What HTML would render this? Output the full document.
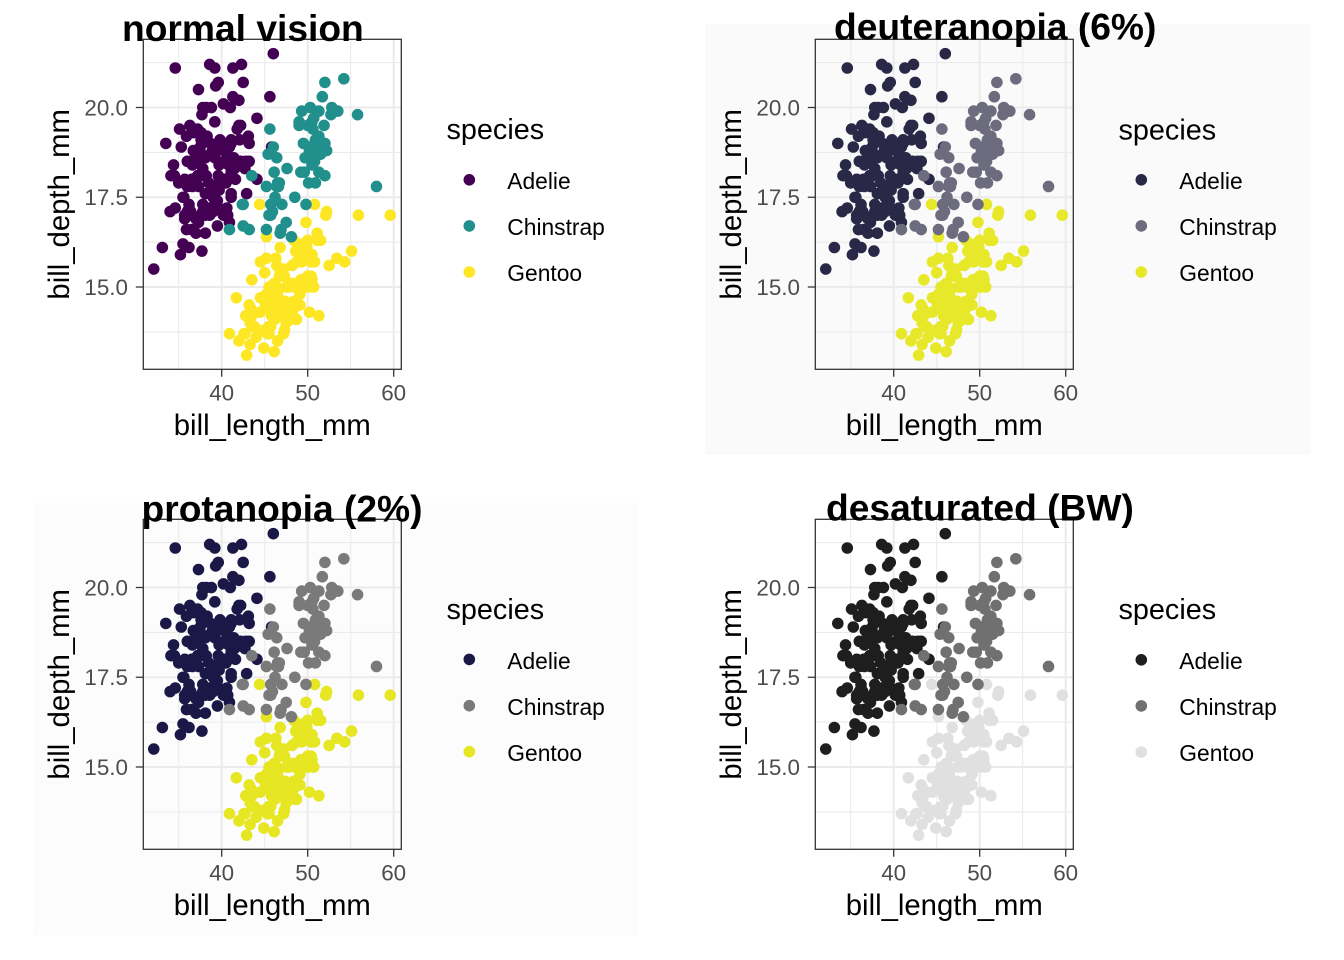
<!DOCTYPE html>
<html>
<head>
<meta charset="utf-8">
<style>
html,body{margin:0;padding:0;background:#fff;}
svg{display:block;}
text{font-family:"Liberation Sans",Arial,sans-serif;}
.tk{font-size:22.4px;fill:#4D4D4D;}
.at{font-size:29.3px;fill:#000;}
.tt{font-size:37.2px;font-weight:bold;fill:#000;}
.lt{font-size:28.8px;fill:#000;}
.ll{font-size:22.8px;fill:#000;}
</style>
</head>
<body>
<svg xmlns="http://www.w3.org/2000/svg" xmlns:xlink="http://www.w3.org/1999/xlink" width="1344" height="960" viewBox="0 0 1344 960">
<defs>
<g id="grid" fill="none" stroke="#EBEBEB">
  <g stroke-width="1.1">
    <path d="M143.3 62.6H401.3M143.3 152.4H401.3M143.3 242.1H401.3M143.3 331.9H401.3"/>
    <path d="M178.7 39.3V369.3M264.7 39.3V369.3M350.7 39.3V369.3"/>
  </g>
  <g stroke-width="2.1">
    <path d="M143.3 107.5H401.3M143.3 197.25H401.3M143.3 287H401.3"/>
    <path d="M221.7 39.3V369.3M307.7 39.3V369.3M393.7 39.3V369.3"/>
  </g>
</g>
<g id="frame" fill="none" stroke="#333333" stroke-width="1.3">
  <rect x="143.3" y="39.3" width="258" height="330"/>
  <path d="M135.8 107.5H143.3M135.8 197.25H143.3M135.8 287H143.3M221.7 369.3V376.8M307.7 369.3V376.8M393.7 369.3V376.8"/>
</g>
<path id="dA" vector-effect="non-scaling-stroke" d="M39.1 18.7h0M39.5 17.4h0M40.3 18h0M36.7 19.3h0M39.3 20.6h0M38.9 17.8h0M39.2 19.6h0M34.1 18.1h0M42 20.2h0M37.8 17.1h0M37.8 17.3h0M41.1 17.6h0M38.6 21.2h0M34.6 21.1h0M36.6 17.8h0M38.7 19h0M42.5 20.7h0M34.4 18.4h0M46 21.5h0M37.8 18.3h0M37.7 18.7h0M35.9 19.2h0M38.2 18.1h0M38.8 17.2h0M35.3 18.9h0M40.6 18.6h0M40.5 17.9h0M37.9 18.6h0M40.5 18.9h0M39.5 16.7h0M37.2 18.1h0M39.5 17.8h0M40.9 18.9h0M36.4 17h0M39.2 21.1h0M38.8 20h0M42.2 18.5h0M37.6 19.3h0M39.8 19.1h0M36.5 18h0M40.8 18.4h0M36 18.5h0M44.1 19.7h0M37 16.9h0M39.6 18.8h0M41.1 19h0M37.5 18.9h0M36 17.9h0M42.3 21.2h0M39.6 17.7h0M40.1 18.9h0M35 17.9h0M42 19.5h0M34.5 18.1h0M41.4 18.6h0M39 17.5h0M40.6 18.8h0M36.5 16.6h0M37.6 19.1h0M35.7 16.9h0M41.3 21.1h0M37.6 17h0M41.1 18.2h0M36.4 17.1h0M41.6 18h0M35.5 16.2h0M41.1 19.1h0M35.9 16.6h0M41.8 19.4h0M33.5 19h0M39.7 18.4h0M39.6 17.2h0M45.8 18.9h0M35.5 17.5h0M42.8 18.5h0M40.9 16.8h0M37.2 19.4h0M36.2 16.1h0M42.1 19.1h0M34.6 17.2h0M42.9 17.6h0M36.7 18.8h0M35.1 19.4h0M37.3 17.8h0M41.3 20.3h0M36.3 19.5h0M36.9 18.6h0M38.3 19.2h0M38.9 18.8h0M35.7 18h0M41.1 18.1h0M34 17.1h0M39.6 18.1h0M36.2 17.3h0M40.8 18.9h0M38.1 18.6h0M40.3 18.5h0M33.1 16.1h0M43.2 18.5h0M35 17.9h0M41 20h0M37.7 16h0M37.8 20h0M37.9 18.6h0M39.7 18.9h0M38.6 17.2h0M38.2 20h0M38.1 17h0M43.2 19h0M38.1 16.5h0M45.6 20.3h0M39.7 17.7h0M42.2 19.5h0M39.6 20.7h0M42.7 18.3h0M38.6 17h0M37.3 20.5h0M35.7 17h0M41.1 18.6h0M36.2 17.2h0M37.7 19.8h0M40.2 17h0M41.4 18.5h0M35.2 15.9h0M40.6 19h0M38.8 17.6h0M41.5 18.3h0M39 17.1h0M44.1 18h0M38.5 17.9h0M43.1 19.2h0M36.8 18.5h0M37.5 18.5h0M38.1 17.6h0M41.1 17.5h0M35.6 17.5h0M40.2 20.1h0M37 16.5h0M39.7 17.9h0M40.2 17.1h0M40.6 17.2h0M32.1 15.5h0M40.7 17h0M37.3 16.8h0M39 18.7h0M39.2 18.6h0M36.6 18.4h0M36 17.8h0M37.8 18.1h0M36 17.1h0M41.5 18.5h0"/>
<path id="dG" vector-effect="non-scaling-stroke" d="M46.1 13.2h0M50 16.3h0M48.7 14.1h0M50 15.2h0M47.6 14.5h0M46.5 13.5h0M45.4 14.6h0M46.7 15.3h0M43.3 13.4h0M46.8 15.4h0M40.9 13.7h0M49 16.1h0M45.5 13.7h0M48.4 14.6h0M45.8 14.6h0M49.3 15.7h0M42 13.5h0M49.2 15.2h0M46.2 14.5h0M48.7 15.1h0M50.2 14.3h0M45.1 14.5h0M46.5 14.5h0M46.3 15.8h0M42.9 13.1h0M46.1 15.1h0M44.5 14.3h0M47.8 15h0M48.2 14.3h0M50 15.3h0M47.3 15.3h0M42.8 14.2h0M45.1 14.5h0M59.6 17h0M49.1 14.8h0M48.4 16.3h0M42.6 13.7h0M44.4 17.3h0M44 13.6h0M48.7 15.7h0M42.7 13.7h0M49.6 16h0M45.3 13.7h0M49.6 15h0M50.5 15.9h0M43.6 13.9h0M45.5 13.9h0M50.5 15.9h0M44.9 13.3h0M45.2 15.8h0M46.6 14.2h0M48.5 14.1h0M45.1 14.4h0M50.1 15h0M46.5 14.4h0M45 15.4h0M43.8 13.9h0M45.5 15h0M43.2 14.5h0M50.4 15.3h0M45.3 13.8h0M46.2 14.9h0M45.7 13.9h0M54.3 15.7h0M45.8 14.2h0M49.8 16.8h0M46.2 14.4h0M49.5 16.2h0M43.5 14.2h0M50.7 15h0M47.7 15h0M46.4 15.6h0M48.2 15.6h0M46.5 14.8h0M46.4 15h0M48.6 16h0M47.5 14.2h0M51.1 16.3h0M45.2 13.8h0M45.2 16.4h0M49.1 14.5h0M52.5 15.6h0M47.4 14.6h0M50 15.9h0M44.9 13.8h0M50.8 17.3h0M43.4 14.4h0M51.3 14.2h0M47.5 14h0M52.1 17h0M47.5 15h0M52.2 17.1h0M45.5 14.5h0M49.5 16.1h0M44.5 14.7h0M50.8 15.7h0M49.4 15.8h0M46.9 14.6h0M48.4 14.4h0M51.1 16.5h0M48.5 15h0M55.9 17h0M47.2 15.5h0M49.1 15h0M47.3 13.8h0M46.8 16.1h0M41.7 14.7h0M53.4 15.8h0M43.3 14h0M48.1 15.1h0M50.5 15.2h0M49.8 15.9h0M43.5 15.2h0M51.5 16.3h0M46.2 14.1h0M55.1 16h0M44.5 15.7h0M48.8 16.2h0M47.2 13.7h0M46.8 14.3h0M50.4 15.7h0M45.2 14.8h0M49.9 16.1h0"/>
<path id="dC" vector-effect="non-scaling-stroke" d="M46.5 17.9h0M50 19.5h0M51.3 19.2h0M45.4 18.7h0M52.7 19.8h0M45.2 17.8h0M46.1 18.2h0M51.3 18.2h0M46 18.9h0M51.3 19.9h0M46.6 17.8h0M51.7 20.3h0M47 17.3h0M52 18.1h0M45.9 17.1h0M50.5 19.6h0M50.3 20h0M58 17.8h0M46.4 18.6h0M49.2 18.2h0M42.4 17.3h0M48.5 17.5h0M43.2 16.6h0M50.6 19.4h0M46.7 17.9h0M52 19h0M50.5 18.4h0M49.5 19h0M46.4 17.8h0M52.8 20h0M40.9 16.6h0M54.2 20.8h0M42.5 16.7h0M51 18.8h0M49.7 18.6h0M47.5 16.8h0M47.6 18.3h0M52 20.7h0M46.9 16.6h0M53.5 19.9h0M49 19.5h0M46.2 17.5h0M50.9 19.1h0M45.5 17h0M50.9 17.9h0M50.8 18.5h0M50.1 17.9h0M49 19.6h0M51.5 18.7h0M49.8 17.3h0M48.1 16.4h0M51.4 19h0M45.7 17.3h0M50.7 19.7h0M42.5 17.3h0M52.2 18.8h0M45.2 16.6h0M49.3 19.9h0M50.2 18.8h0M45.6 19.4h0M51.9 19.5h0M46.8 16.5h0M45.7 17h0M55.8 19.8h0M43.5 18.1h0M49.6 18.2h0M50.8 19h0M50.2 18.7h0"/>
</defs>

<rect x="0" y="0" width="1344" height="960" fill="#ffffff"/>

<!-- ============ Panel 1: normal vision ============ -->
<g transform="translate(0,0)">
  <use xlink:href="#grid" href="#grid"/>
  <g transform="matrix(8.6 0 0 -35.9 -122.3 825.5)" fill="none" stroke-linecap="round" stroke-width="11.6">
    <use xlink:href="#dA" href="#dA" stroke="#440154"/>
    <use xlink:href="#dG" href="#dG" stroke="#FDE725"/>
    <use xlink:href="#dC" href="#dC" stroke="#21908C"/>
  </g>
  <use xlink:href="#frame" href="#frame"/>
  <text class="tk" x="128" y="115.5" text-anchor="end">20.0</text>
  <text class="tk" x="128" y="205.2" text-anchor="end">17.5</text>
  <text class="tk" x="128" y="295" text-anchor="end">15.0</text>
  <text class="tk" x="221.7" y="400.5" text-anchor="middle">40</text>
  <text class="tk" x="307.7" y="400.5" text-anchor="middle">50</text>
  <text class="tk" x="393.7" y="400.5" text-anchor="middle">60</text>
  <text class="at" x="272.3" y="435" text-anchor="middle">bill_length_mm</text>
  <text class="at" transform="translate(69,204.3) rotate(-90)" text-anchor="middle">bill_depth_mm</text>
  <text class="tt" x="122" y="41">normal vision</text>
  <text class="lt" x="446.5" y="139">species</text>
  <circle cx="469.3" cy="179.8" r="5.8" fill="#440154"/>
  <circle cx="469.3" cy="225.9" r="5.8" fill="#21908C"/>
  <circle cx="469.3" cy="272" r="5.8" fill="#FDE725"/>
  <text class="ll" x="507.3" y="189">Adelie</text>
  <text class="ll" x="507.3" y="235">Chinstrap</text>
  <text class="ll" x="507.3" y="281">Gentoo</text>
</g>

<!-- ============ Panel 2: deuteranopia ============ -->
<g transform="translate(672,0)">
  <rect x="33" y="24" width="605.7" height="431" fill="#FAFAFA"/>
  <use xlink:href="#grid" href="#grid"/>
  <g transform="matrix(8.6 0 0 -35.9 -122.3 825.5)" fill="none" stroke-linecap="round" stroke-width="11.6">
    <use xlink:href="#dA" href="#dA" stroke="#2A2847"/>
    <use xlink:href="#dG" href="#dG" stroke="#E8E82A"/>
    <use xlink:href="#dC" href="#dC" stroke="#6D6C7E"/>
  </g>
  <use xlink:href="#frame" href="#frame"/>
  <text class="tk" x="128" y="115.5" text-anchor="end">20.0</text>
  <text class="tk" x="128" y="205.2" text-anchor="end">17.5</text>
  <text class="tk" x="128" y="295" text-anchor="end">15.0</text>
  <text class="tk" x="221.7" y="400.5" text-anchor="middle">40</text>
  <text class="tk" x="307.7" y="400.5" text-anchor="middle">50</text>
  <text class="tk" x="393.7" y="400.5" text-anchor="middle">60</text>
  <text class="at" x="272.3" y="435" text-anchor="middle">bill_length_mm</text>
  <text class="at" transform="translate(69,204.3) rotate(-90)" text-anchor="middle">bill_depth_mm</text>
  <text class="tt" x="162" y="39.5">deuteranopia (6%)</text>
  <text class="lt" x="446.5" y="139.5">species</text>
  <circle cx="469.3" cy="179.8" r="5.8" fill="#2A2847"/>
  <circle cx="469.3" cy="225.9" r="5.8" fill="#6D6C7E"/>
  <circle cx="469.3" cy="272" r="5.8" fill="#E8E82A"/>
  <text class="ll" x="507.3" y="189">Adelie</text>
  <text class="ll" x="507.3" y="235">Chinstrap</text>
  <text class="ll" x="507.3" y="281">Gentoo</text>
</g>

<!-- ============ Panel 3: protanopia ============ -->
<g transform="translate(0,480)">
  <rect x="33" y="23.3" width="605" height="431.7" fill="#FCFCFC"/>
  <use xlink:href="#grid" href="#grid"/>
  <g transform="matrix(8.6 0 0 -35.9 -122.3 825.5)" fill="none" stroke-linecap="round" stroke-width="11.6">
    <use xlink:href="#dA" href="#dA" stroke="#1B1848"/>
    <use xlink:href="#dG" href="#dG" stroke="#E6E622"/>
    <use xlink:href="#dC" href="#dC" stroke="#7A7A7A"/>
  </g>
  <use xlink:href="#frame" href="#frame"/>
  <text class="tk" x="128" y="115.5" text-anchor="end">20.0</text>
  <text class="tk" x="128" y="205.2" text-anchor="end">17.5</text>
  <text class="tk" x="128" y="295" text-anchor="end">15.0</text>
  <text class="tk" x="221.7" y="400.5" text-anchor="middle">40</text>
  <text class="tk" x="307.7" y="400.5" text-anchor="middle">50</text>
  <text class="tk" x="393.7" y="400.5" text-anchor="middle">60</text>
  <text class="at" x="272.3" y="435" text-anchor="middle">bill_length_mm</text>
  <text class="at" transform="translate(69,204.3) rotate(-90)" text-anchor="middle">bill_depth_mm</text>
  <text class="tt" x="141.5" y="41.5">protanopia (2%)</text>
  <text class="lt" x="446.5" y="139">species</text>
  <circle cx="469.3" cy="179.4" r="5.8" fill="#1B1848"/>
  <circle cx="469.3" cy="225.7" r="5.8" fill="#7A7A7A"/>
  <circle cx="469.3" cy="271.7" r="5.8" fill="#E6E622"/>
  <text class="ll" x="507.3" y="189">Adelie</text>
  <text class="ll" x="507.3" y="235">Chinstrap</text>
  <text class="ll" x="507.3" y="281">Gentoo</text>
</g>

<!-- ============ Panel 4: desaturated ============ -->
<g transform="translate(672,480)">
  <use xlink:href="#grid" href="#grid"/>
  <g transform="matrix(8.6 0 0 -35.9 -122.3 825.5)" fill="none" stroke-linecap="round" stroke-width="11.6">
    <use xlink:href="#dA" href="#dA" stroke="#1E1E1E"/>
    <use xlink:href="#dG" href="#dG" stroke="#E0E0E0"/>
    <use xlink:href="#dC" href="#dC" stroke="#707070"/>
  </g>
  <use xlink:href="#frame" href="#frame"/>
  <text class="tk" x="128" y="115.5" text-anchor="end">20.0</text>
  <text class="tk" x="128" y="205.2" text-anchor="end">17.5</text>
  <text class="tk" x="128" y="295" text-anchor="end">15.0</text>
  <text class="tk" x="221.7" y="400.5" text-anchor="middle">40</text>
  <text class="tk" x="307.7" y="400.5" text-anchor="middle">50</text>
  <text class="tk" x="393.7" y="400.5" text-anchor="middle">60</text>
  <text class="at" x="272.3" y="435" text-anchor="middle">bill_length_mm</text>
  <text class="at" transform="translate(69,204.3) rotate(-90)" text-anchor="middle">bill_depth_mm</text>
  <text class="tt" x="154" y="40.5">desaturated (BW)</text>
  <text class="lt" x="446.5" y="139">species</text>
  <circle cx="469.3" cy="179.8" r="5.8" fill="#1E1E1E"/>
  <circle cx="469.3" cy="225.9" r="5.8" fill="#707070"/>
  <circle cx="469.3" cy="272" r="5.8" fill="#E0E0E0"/>
  <text class="ll" x="507.3" y="189">Adelie</text>
  <text class="ll" x="507.3" y="235">Chinstrap</text>
  <text class="ll" x="507.3" y="281">Gentoo</text>
</g>
</svg>
</body>
</html>
